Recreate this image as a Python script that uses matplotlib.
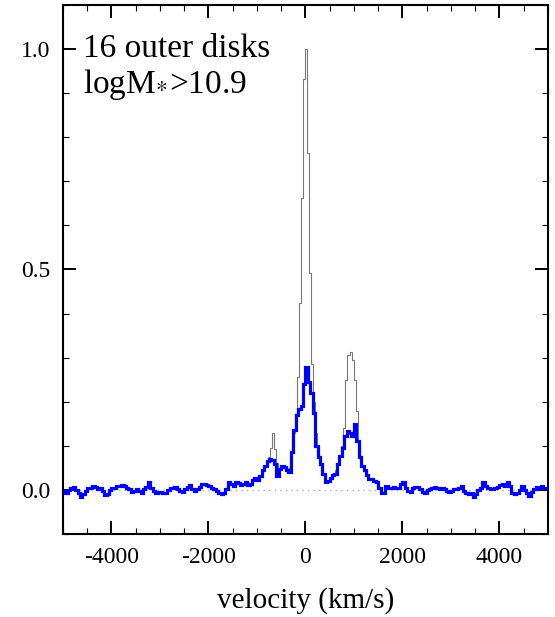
import numpy as np
import matplotlib
matplotlib.use("Agg")
import matplotlib.pyplot as plt
from matplotlib.ticker import MultipleLocator, FormatStrFormatter

plt.rcParams['font.family'] = ['Liberation Serif', 'DejaVu Serif']
plt.rcParams['mathtext.fontset'] = 'stix'
plt.rcParams['axes.unicode_minus'] = False

# ---- data ----
blue_start, blue_width = -5000, 50
blue_flux = [
    -0.002, -0.006, -0.001, 0.005, 0.007, -0.001, -0.008, -0.016, -0.010, -0.002,
    0.005, 0.004, 0.008, 0.007, 0.002, 0.004, -0.002, -0.011, -0.010, -0.001,
    0.005, 0.005, 0.009, 0.010, 0.011, 0.010, 0.005, 0.002, -0.004, -0.002,
    0.002, -0.002, -0.006, 0.002, 0.007, 0.019, 0.005, -0.002, -0.008, -0.004,
    -0.004, -0.006, -0.008, -0.001, 0.004, 0.005, 0.007, 0.002, -0.002, -0.004,
    0.002, 0.007, 0.011, 0.002, -0.002, 0.002, 0.007, 0.013, 0.014, 0.011,
    0.009, 0.005, 0.002, -0.002, -0.006, -0.010, -0.006, 0.002, 0.017, 0.014,
    0.009, 0.017, 0.016, 0.011, 0.014, 0.017, 0.011, 0.013, 0.022, 0.027,
    0.022, 0.032, 0.045, 0.055, 0.066, 0.070, 0.068, 0.058, 0.032, 0.047,
    0.055, 0.053, 0.045, 0.040, 0.085, 0.135, 0.170, 0.184, 0.190, 0.241,
    0.279, 0.245, 0.220, 0.175, 0.100, 0.075, 0.059, 0.036, 0.017, 0.020,
    0.028, 0.034, 0.036, 0.059, 0.078, 0.095, 0.123, 0.134, 0.130, 0.123,
    0.150, 0.110, 0.075, 0.055, 0.045, 0.034, 0.025, 0.025, 0.020, 0.017,
    0.005, -0.006, -0.006, 0.009, 0.005, 0.005, 0.007, 0.005, 0.004, 0.013,
    0.017, 0.005, -0.003, -0.004, 0.005, 0.007, 0.007, 0.002, -0.004, -0.008,
    0.000, 0.002, 0.005, 0.007, 0.004, 0.003, 0.005, 0.002, -0.003, -0.004,
    -0.002, 0.001, 0.002, 0.004, 0.009, -0.002, -0.006, -0.010, -0.006, -0.016,
    -0.010, -0.001, 0.005, 0.017, 0.009, 0.004, 0.003, 0.002, 0.004, 0.007,
    0.011, 0.013, 0.009, 0.017, 0.010, -0.006, -0.009, -0.006, 0.000, 0.009,
    0.000, -0.008, -0.014, -0.004, 0.002, 0.007, 0.004, 0.009, 0.005, 0.005,
]

gray_start, gray_width = -770, 42
gray_flux = [
    0.075, 0.095, 0.130, 0.093, 0.060, 0.048, 0.054, 0.055, 0.050, 0.046,
    0.050, 0.080, 0.130, 0.172, 0.256, 0.423, 0.662, 0.932, 1.000, 0.765,
    0.491, 0.286, 0.200, 0.130, 0.085, 0.070, 0.055, 0.035, 0.020, 0.020,
    0.027, 0.032, 0.035, 0.045, 0.062, 0.080, 0.100, 0.140, 0.250, 0.305,
    0.313, 0.295, 0.250, 0.180, 0.100, 0.068, 0.052, 0.042, 0.032,
]

x_ticks = [-4000, -2000, 0, 2000, 4000]
y_ticks = [0.0, 0.5, 1.0]

# ---- figure ----
fig = plt.figure(figsize=(5.55, 6.17), dpi=100)
ax = fig.add_axes([0.1135, 0.1345, 0.8735, 0.8575])

blue_edges = blue_start + blue_width * np.arange(len(blue_flux) + 1)
gray_edges = gray_start + gray_width * np.arange(len(gray_flux) + 1)

ax.axhline(0, color='#b0b0b0', lw=1.0, ls=(0, (1, 3)), zorder=1)
ax.stairs(gray_flux, gray_edges, baseline=None, color='#777777', lw=0.8, zorder=2)
ax.stairs(blue_flux, blue_edges, baseline=None, color='#0000ff', lw=2.3, zorder=3)

ax.set_xlim(-5000, 5000)
ax.set_ylim(-0.1, 1.1)
ax.set_xticks(x_ticks)
ax.set_yticks(y_ticks)
ax.xaxis.set_minor_locator(MultipleLocator(500))
ax.yaxis.set_minor_locator(MultipleLocator(0.1))
ax.yaxis.set_major_formatter(FormatStrFormatter('%.1f'))

ax.tick_params(which='both', direction='in', top=True, right=True)
ax.tick_params(which='major', length=9.4, width=1.4, labelsize=17, pad=9)
ax.tick_params(which='minor', length=4.3, width=0.8)
for s in ax.spines.values():
    s.set_linewidth(1.5)

ax.set_xlabel('velocity (km/s)', fontsize=21, labelpad=14)

ax.text(0.041, 0.902, '16 outer disks', transform=ax.transAxes,
        fontsize=24, va='baseline', ha='left')
ax.text(0.041, 0.834, r'logM$_{*}$>10.9', transform=ax.transAxes,
        fontsize=24, va='baseline', ha='left')

fig.savefig('out.png', dpi=100)
